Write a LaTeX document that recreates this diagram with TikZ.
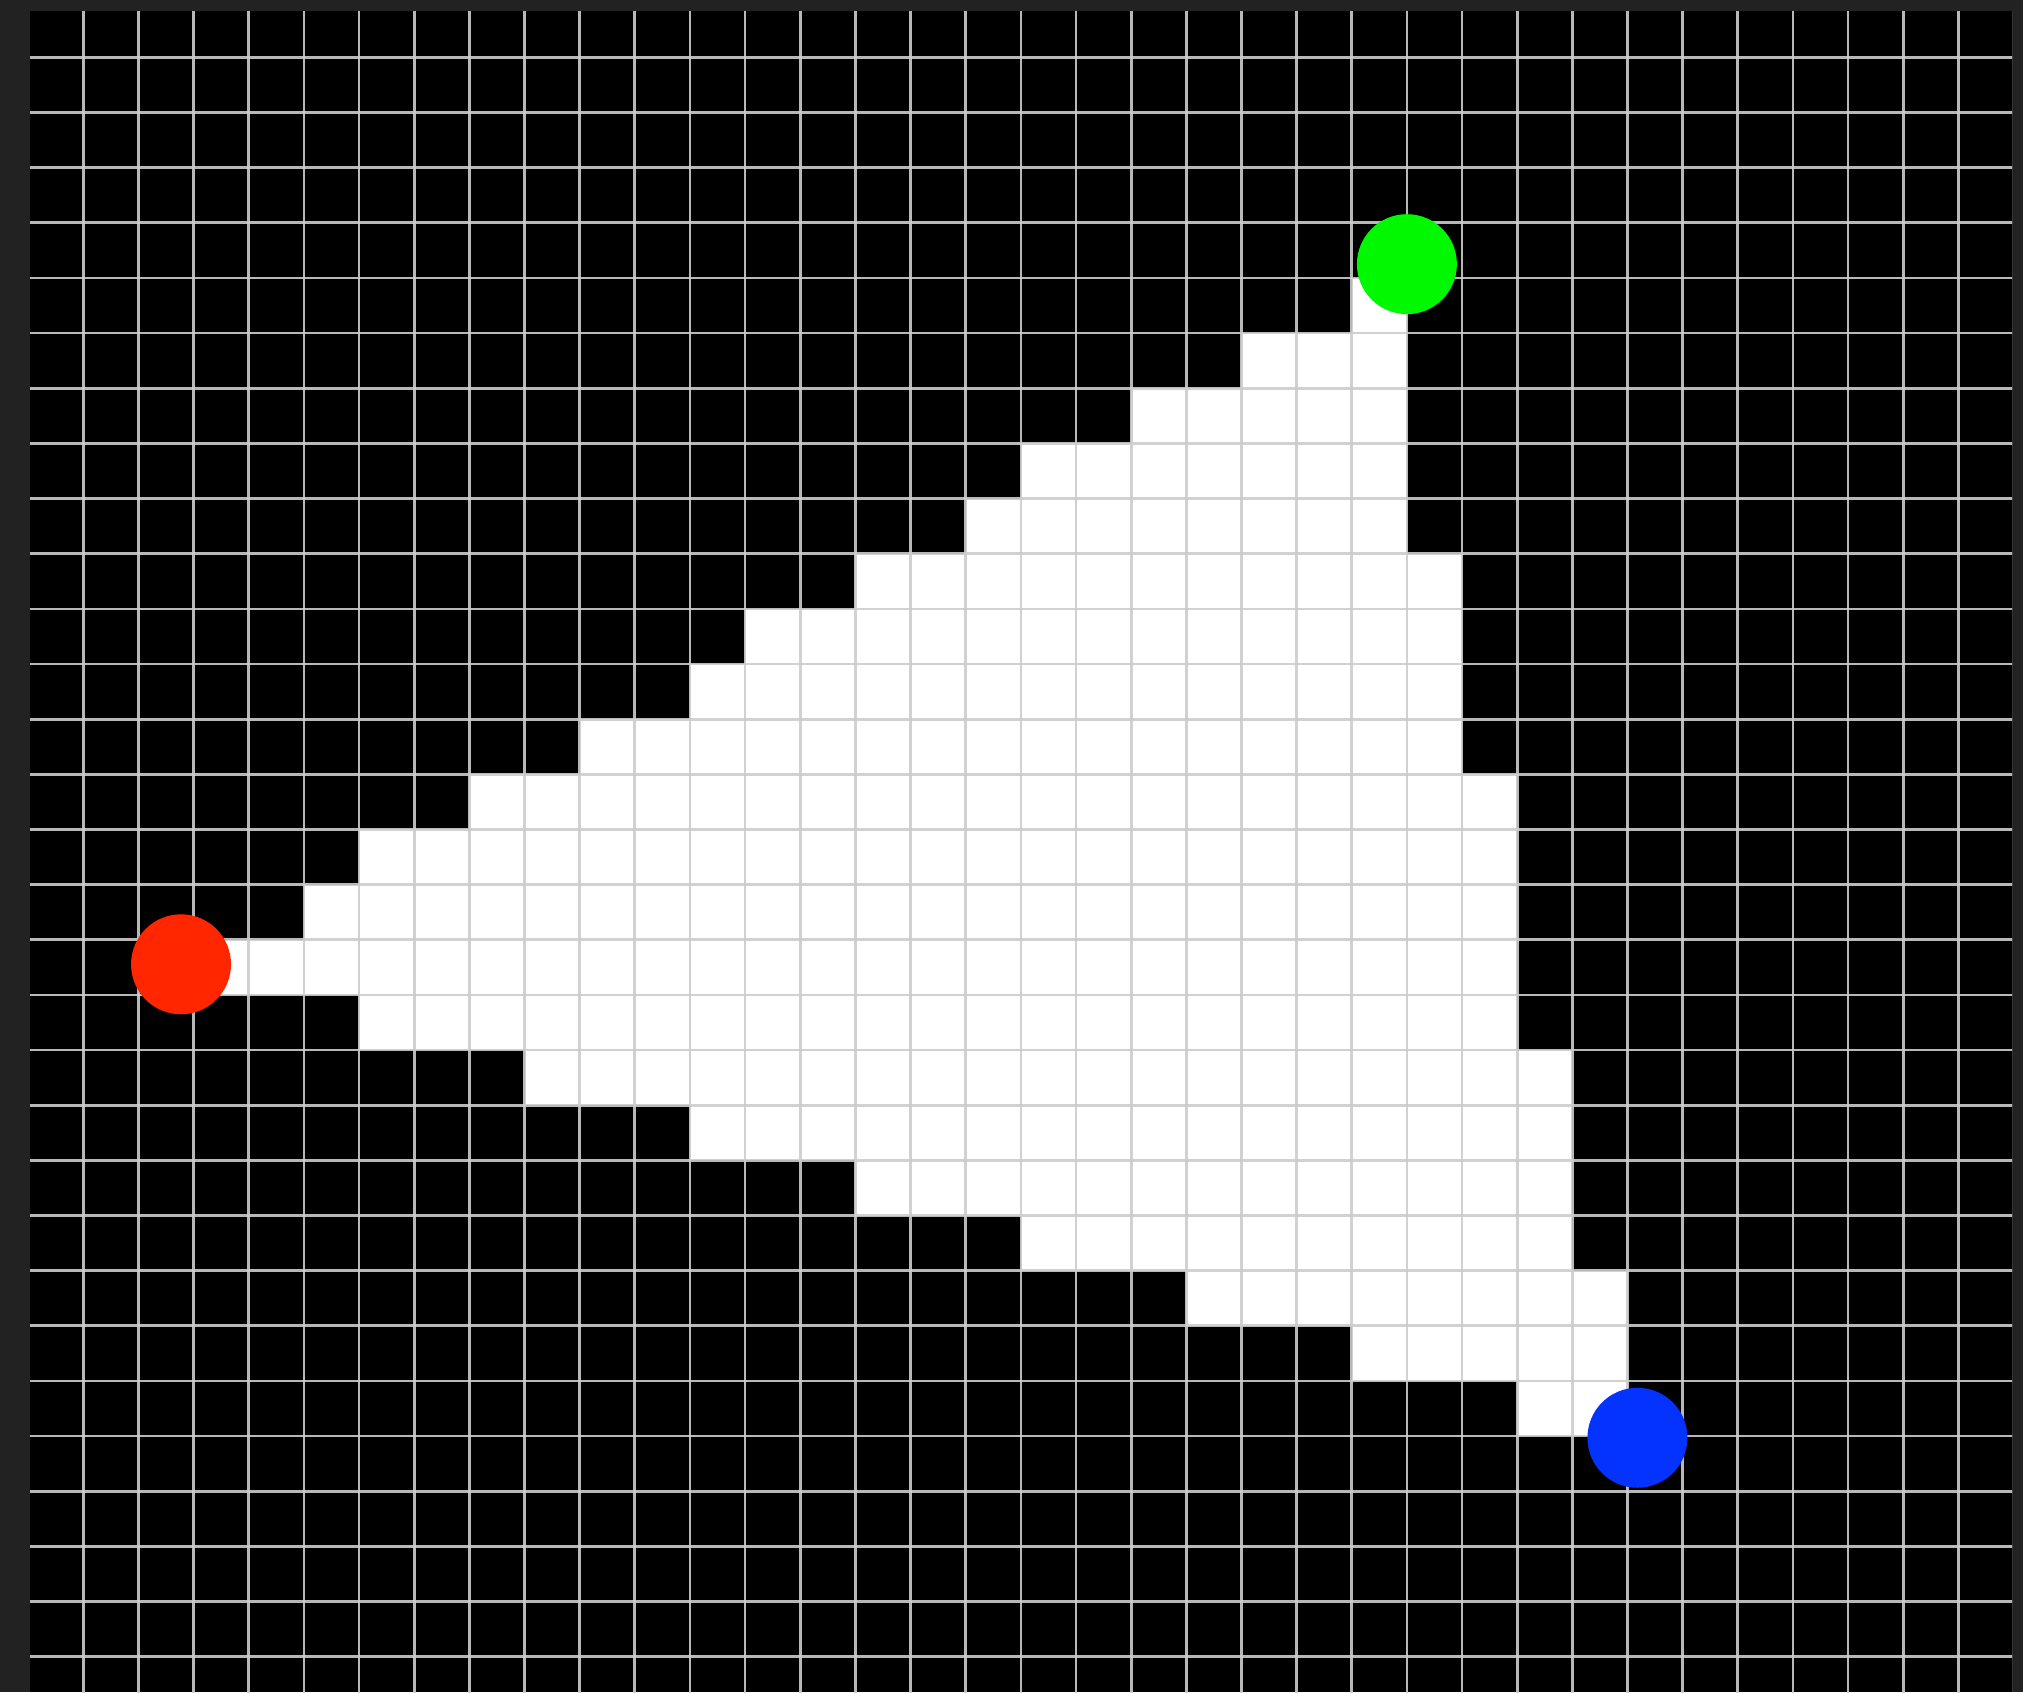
\documentclass[tikz,border=0pt]{standalone}
\usepackage{xcolor}
\usepackage{tikz}
\definecolor{framegray}{HTML}{222222}
\definecolor{vred}{HTML}{FF2600}
\definecolor{vgreen}{HTML}{00F900}
\definecolor{vblue}{HTML}{0433FF}
\tikzset{
  pixel/.style={fill=white, draw=none},
  gridline/.style={draw=black!20, draw opacity=0.9, line width=1.4pt},
  vertex/.style={circle, draw=none, inner sep=0pt, minimum size=18.13mm}
}

\begin{document}
\begin{tikzpicture}
  \useasboundingbox (0,0) rectangle (36.682,-30.680);
  \fill[framegray] (0,0) rectangle (36.682,-30.680);
  \fill[black] (0.544,-0.2) rectangle (36.483,-30.680);

  \begin{scope}[shift={(0.5104,-0.0399)}]
    \begin{scope}
      \clip (0.0336,-0.160) rectangle (35.973,-30.64);
      \foreach \r/\a/\b in {5/24/24, 6/22/24, 7/20/24, 8/18/24, 9/17/24, 10/15/25, 11/13/25,
                            12/12/25, 13/10/25, 14/8/26, 15/6/26, 16/5/26, 17/3/26, 18/6/26,
                            19/9/27, 20/12/27, 21/15/27, 22/18/27, 23/21/28, 24/24/28, 25/27/28} {
        \fill[pixel] (\a,-\r) rectangle ({\b+1},{-\r-1});
      }
      \foreach \c in {0,...,36} {
        \draw[gridline] (\c,1) -- (\c,-32);
      }
      \foreach \r in {0,...,31} {
        \draw[gridline] (-1,-\r) -- (37,-\r);
      }
    \end{scope}

    \node[vertex, fill=vred] (red) at (2.772,-17.445) {};
    \node[vertex, fill=vgreen] (green) at (25.0,-4.75) {};
    \node[vertex, fill=vblue] (blue) at (29.18,-26.03) {};
  \end{scope}
\end{tikzpicture}
\end{document}
